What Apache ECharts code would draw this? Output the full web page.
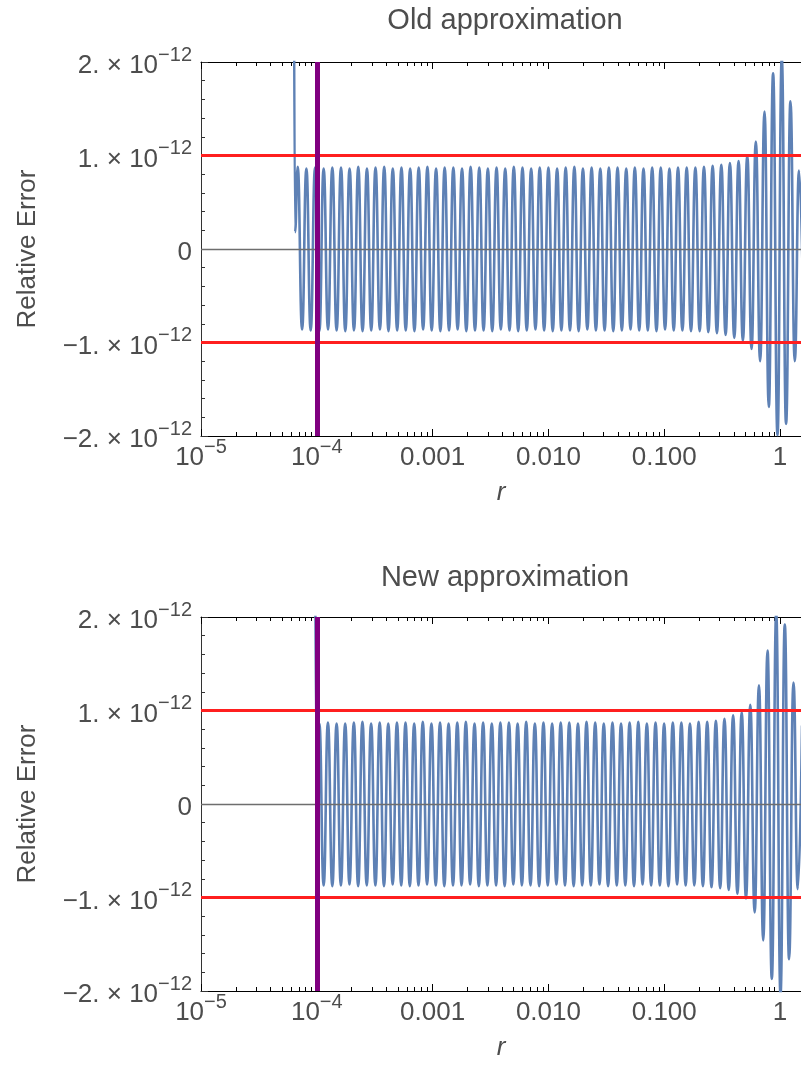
<!DOCTYPE html>
<html>
<head>
<meta charset="UTF-8"/>
<title>Relative error</title>
<script src="https://cdn.jsdelivr.net/npm/echarts@6.0.0/dist/echarts.min.js"></script>
<style>
html,body{margin:0;padding:0;background:#fff;}
#chart{width:801px;height:1077px;}
</style>
</head>
<body>
<div id="chart"></div>
<script type="text/javascript">
// x values are log10(r), errors are in units of 1e-12

// old approximation
var oldLeadR = [-4.201, -4.188];
var oldLeadErr = [5, 0.18];
var oldPeakR = [
  -4.165, -4.090, -4.015, -3.941, -3.866, -3.791, -3.717, -3.642, -3.567, -3.493,
  -3.418, -3.344, -3.269, -3.194, -3.120, -3.045, -2.970, -2.896, -2.821, -2.746,
  -2.672, -2.597, -2.523, -2.448, -2.373, -2.299, -2.224, -2.149, -2.075, -2.000,
  -1.925, -1.851, -1.776, -1.702, -1.627, -1.552, -1.478, -1.403, -1.328, -1.254,
  -1.179, -1.104, -1.030, -0.955, -0.881, -0.806, -0.731, -0.657, -0.582, -0.507,
  -0.433, -0.358, -0.283, -0.209, -0.134, -0.060, 0.015, 0.090, 0.164
];
var oldPeakErr = [
  0.88, 0.86, 0.87, 0.86, 0.87, 0.87, 0.86, 0.88, 0.86, 0.87,
  0.88, 0.86, 0.87, 0.86, 0.87, 0.88, 0.86, 0.87, 0.87, 0.86,
  0.88, 0.87, 0.86, 0.87, 0.86, 0.88, 0.87, 0.86, 0.87, 0.87,
  0.86, 0.87, 0.88, 0.86, 0.87, 0.86, 0.87, 0.87, 0.86, 0.87,
  0.86, 0.87, 0.87, 0.86, 0.87, 0.87, 0.87, 0.88, 0.89, 0.90,
  0.92, 0.94, 1.00, 1.15, 1.47, 1.88, 2.04, 1.58, 0.84
];
var oldTroughR = [
  -4.127, -4.053, -3.978, -3.903, -3.829, -3.754, -3.679, -3.605, -3.530, -3.455,
  -3.381, -3.306, -3.232, -3.157, -3.082, -3.008, -2.933, -2.858, -2.784, -2.709,
  -2.634, -2.560, -2.485, -2.411, -2.336, -2.261, -2.187, -2.112, -2.037, -1.963,
  -1.888, -1.814, -1.739, -1.664, -1.590, -1.515, -1.440, -1.366, -1.291, -1.216,
  -1.142, -1.067, -0.993, -0.918, -0.843, -0.769, -0.694, -0.619, -0.545, -0.470,
  -0.395, -0.321, -0.246, -0.172, -0.097, -0.022, 0.052, 0.127, 0.202
];
var oldTroughErr = [
  -0.86, -0.87, -0.88, -0.86, -0.87, -0.88, -0.87, -0.88, -0.87, -0.86,
  -0.88, -0.87, -0.87, -0.88, -0.86, -0.87, -0.88, -0.87, -0.86, -0.88,
  -0.87, -0.87, -0.88, -0.86, -0.87, -0.88, -0.87, -0.86, -0.87, -0.88,
  -0.87, -0.87, -0.88, -0.86, -0.87, -0.87, -0.88, -0.87, -0.86, -0.87,
  -0.87, -0.88, -0.86, -0.87, -0.87, -0.88, -0.88, -0.89, -0.90, -0.92,
  -0.95, -0.98, -1.07, -1.20, -1.69, -1.99, -1.87, -1.20, -0.80
];

// new approximation
var newLeadR = [-4.021, -4.000];
var newLeadErr = [5, 0.18];
var newPeakR = [
  -3.978, -3.904, -3.829, -3.755, -3.680, -3.606, -3.531, -3.457, -3.383, -3.308,
  -3.234, -3.159, -3.085, -3.010, -2.936, -2.862, -2.787, -2.713, -2.638, -2.564,
  -2.489, -2.415, -2.341, -2.266, -2.192, -2.117, -2.043, -1.968, -1.894, -1.820,
  -1.745, -1.671, -1.596, -1.522, -1.447, -1.373, -1.299, -1.224, -1.150, -1.075,
  -1.001, -0.926, -0.852, -0.778, -0.703, -0.629, -0.554, -0.480, -0.405, -0.331,
  -0.257, -0.182, -0.108, -0.033, 0.041, 0.116, 0.190
];
var newPeakErr = [
  0.86, 0.87, 0.86, 0.86, 0.87, 0.88, 0.86, 0.87, 0.86, 0.87,
  0.87, 0.86, 0.88, 0.86, 0.87, 0.86, 0.87, 0.88, 0.86, 0.87,
  0.86, 0.87, 0.87, 0.86, 0.88, 0.86, 0.87, 0.86, 0.87, 0.87,
  0.86, 0.88, 0.87, 0.86, 0.87, 0.86, 0.87, 0.88, 0.86, 0.87,
  0.86, 0.87, 0.87, 0.86, 0.88, 0.88, 0.89, 0.91, 0.95, 0.98,
  1.06, 1.27, 1.64, 2.04, 1.92, 1.30, 0.84
];
var newTroughR = [
  -3.941, -3.866, -3.792, -3.718, -3.643, -3.569, -3.494, -3.420, -3.345, -3.271,
  -3.197, -3.122, -3.048, -2.973, -2.899, -2.824, -2.750, -2.676, -2.601, -2.527,
  -2.452, -2.378, -2.303, -2.229, -2.155, -2.080, -2.006, -1.931, -1.857, -1.782,
  -1.708, -1.634, -1.559, -1.485, -1.410, -1.336, -1.261, -1.187, -1.113, -1.038,
  -0.964, -0.889, -0.815, -0.740, -0.666, -0.592, -0.517, -0.443, -0.368, -0.294,
  -0.219, -0.145, -0.071, 0.004, 0.078, 0.153
];
var newTroughErr = [
  -0.87, -0.88, -0.87, -0.86, -0.88, -0.87, -0.87, -0.88, -0.86, -0.87,
  -0.88, -0.87, -0.86, -0.87, -0.88, -0.87, -0.87, -0.86, -0.88, -0.87,
  -0.87, -0.88, -0.86, -0.87, -0.87, -0.88, -0.87, -0.86, -0.87, -0.88,
  -0.87, -0.87, -0.86, -0.88, -0.87, -0.87, -0.88, -0.86, -0.87, -0.87,
  -0.88, -0.86, -0.87, -0.87, -0.88, -0.89, -0.90, -0.92, -0.96, -1.01,
  -1.16, -1.46, -1.87, -2.04, -1.66, -0.91
];

// reference lines
var cutoffR = -4;      // r = 1e-4
var errBound = 1;      // 1e-12

// ticks
var xMin = -5, xMax = 0.181;
var xTickVals = [-5, -4, -3, -2, -1, 0];
var xTickText = ['{b|10}{s|−5}', '{b|10}{s|−4}', '{b|0.001}', '{b|0.010}', '{b|0.100}', '{b|1}'];
var minorMult = [2, 3, 4, 5, 6, 7, 8, 9];
var yTickVals = [-2, -1, 0, 1, 2];
var yTickText = ['{b|−2. × 10}{s|−12}', '{b|−1. × 10}{s|−12}', '{b|0}', '{b|1. × 10}{s|−12}', '{b|2. × 10}{s|−12}'];

var FONT = '"Liberation Sans", Arial, sans-serif';
var TXT = '#4d4d4d';

var xMinorVals = [];
xTickVals.forEach(function (d) {
  minorMult.forEach(function (m) {
    var v = d + Math.log10(m);
    if (v <= xMax) xMinorVals.push(v);
  });
});

function buildPoints(leadR, leadE, peakR, peakE, troughR, troughE) {
  var pts = [];
  var i;
  for (i = 0; i < leadR.length; i++) pts.push([leadR[i], leadE[i]]);
  for (i = 0; i < peakR.length; i++) pts.push([peakR[i], peakE[i]]);
  for (i = 0; i < troughR.length; i++) pts.push([troughR[i], troughE[i]]);
  pts.sort(function (a, b) { return a[0] - b[0]; });
  return pts;
}

var rich = {
  b: {fontSize: 26, color: TXT, fontFamily: FONT, lineHeight: 34, verticalAlign: 'bottom'},
  s: {fontSize: 20, color: TXT, fontFamily: FONT, verticalAlign: 'top'}
};

function xAxes(grid, main) {
  var len = main ? 7 : 4;
  var vals = main ? xTickVals : xMinorVals;
  var bottom = {
    type: 'value', gridIndex: grid, position: 'bottom', min: xMin, max: xMax, interval: 1,
    axisLine: {show: main, onZero: false, lineStyle: {color: '#000', width: 1}},
    axisTick: {show: true, inside: true, length: len, customValues: vals, lineStyle: {color: '#000', width: 1}},
    axisLabel: {show: main, margin: 1, customValues: xTickVals, rich: rich,
      formatter: function (v) { var i = xTickVals.indexOf(v); return i < 0 ? '' : xTickText[i]; }},
    splitLine: {show: false}
  };
  if (main) {
    bottom.name = 'r';
    bottom.nameLocation = 'middle';
    bottom.nameGap = 44;
    bottom.nameTextStyle = {fontSize: 26, fontStyle: 'italic', color: TXT, fontFamily: FONT};
  }
  var top = {
    type: 'value', gridIndex: grid, position: 'top', min: xMin, max: xMax, interval: 1,
    axisLine: {show: main, onZero: false, lineStyle: {color: '#000', width: 1}},
    axisTick: {show: true, inside: true, length: len, customValues: vals, lineStyle: {color: '#000', width: 1}},
    axisLabel: {show: false},
    splitLine: {show: false}
  };
  return [bottom, top];
}

function yAxis(grid, main) {
  if (!main) {
    return {type: 'value', gridIndex: grid, min: -2, max: 2, interval: 1, show: false};
  }
  return {
    type: 'value', gridIndex: grid, position: 'left', min: -2, max: 2, interval: 1,
    axisLine: {show: true, onZero: false, lineStyle: {color: '#333', width: 1}},
    axisTick: {show: true, inside: true, length: 7, lineStyle: {color: '#333'}},
    minorTick: {show: true, splitNumber: 5, length: 4, lineStyle: {color: '#333'}},
    axisLabel: {margin: 9, rich: rich,
      formatter: function (v) { var i = yTickVals.indexOf(v); return i < 0 ? '' : yTickText[i]; }},
    splitLine: {show: false},
    minorSplitLine: {show: false},
    name: 'Relative Error',
    nameLocation: 'middle',
    nameGap: 160,
    nameTextStyle: {fontSize: 26, color: TXT, fontFamily: FONT}
  };
}

function errSeries(name, xIdx, yIdx, pts) {
  return {
    name: name, type: 'line', xAxisIndex: xIdx, yAxisIndex: yIdx,
    data: pts, showSymbol: false, smooth: 0.5, smoothMonotone: 'x', clip: true,
    lineStyle: {color: '#5e81b5', width: 2.6},
    markLine: {
      silent: true, symbol: 'none', label: {show: false},
      data: [
        {yAxis: 0, lineStyle: {color: '#6e6e6e', width: 1.3, type: 'solid'}},
        {yAxis: errBound, lineStyle: {color: '#ff1f1f', width: 3, type: 'solid'}},
        {yAxis: -errBound, lineStyle: {color: '#ff1f1f', width: 3, type: 'solid'}},
        {xAxis: cutoffR, lineStyle: {color: '#800080', width: 5, type: 'solid'}}
      ]
    }
  };
}

var ax = [];
ax = ax.concat(xAxes(0, true), xAxes(1, false), xAxes(2, true), xAxes(3, false));

var myChart = echarts.init(document.getElementById('chart'), null, {renderer: 'canvas'});
var option = {
  animation: false,
  backgroundColor: '#fff',
  graphic: [
    {type: 'text', x: 505, y: 21, style: {text: 'Old approximation', font: '29px ' + FONT, fill: TXT, textAlign: 'center', textVerticalAlign: 'middle'}},
    {type: 'text', x: 505, y: 578, style: {text: 'New approximation', font: '29px ' + FONT, fill: TXT, textAlign: 'center', textVerticalAlign: 'middle'}}
  ],
  grid: [
    {left: 201, right: 0, top: 62, height: 374},
    {left: 201, right: 0, top: 62, height: 374},
    {left: 201, right: 0, top: 617, height: 374},
    {left: 201, right: 0, top: 617, height: 374}
  ],
  xAxis: ax,
  yAxis: [yAxis(0, true), yAxis(1, false), yAxis(2, true), yAxis(3, false)],
  series: [
    errSeries('Old approximation', 0, 0, buildPoints(oldLeadR, oldLeadErr, oldPeakR, oldPeakErr, oldTroughR, oldTroughErr)),
    errSeries('New approximation', 4, 2, buildPoints(newLeadR, newLeadErr, newPeakR, newPeakErr, newTroughR, newTroughErr))
  ]
};
myChart.setOption(option);
</script>
</body>
</html>
